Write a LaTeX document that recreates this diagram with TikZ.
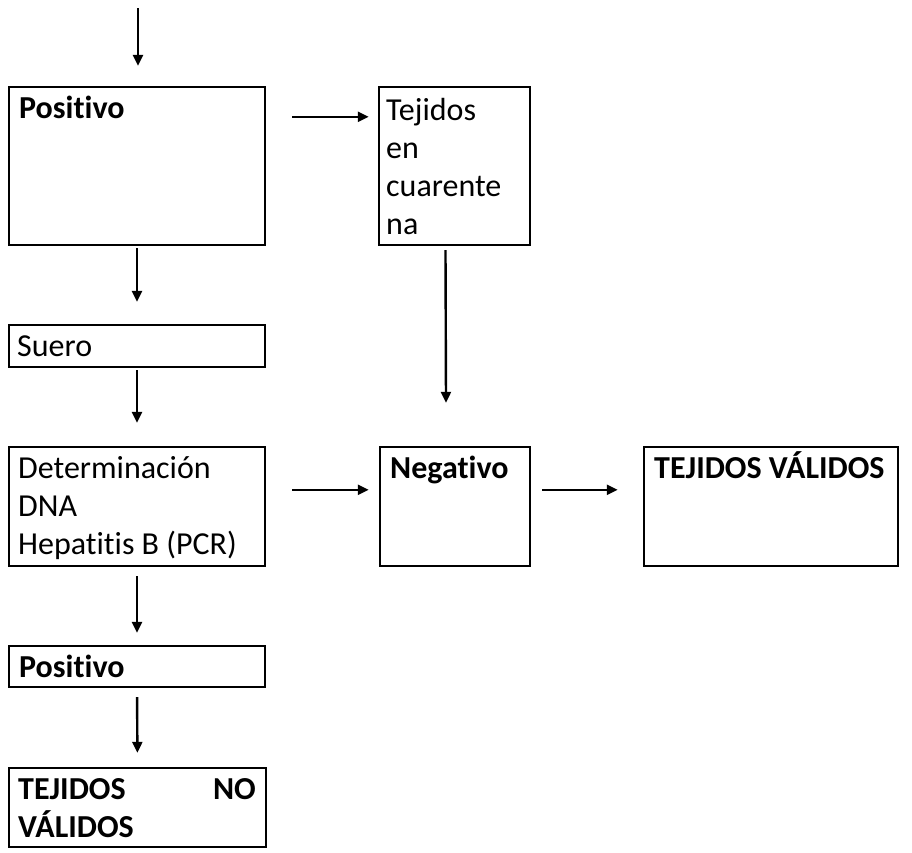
\documentclass[tikz,border=0pt]{standalone}
\usepackage{fontspec}
\setmainfont[Ligatures={NoCommon,NoContextual}]{Carlito}
\usetikzlibrary{arrows.meta,calc}

% Flow chart for hepatitis B screening of tissues.
% Units: 1pt per unit, y grows downward.
\newcommand{\boxat}[5]{%
  \path[draw,line width=2.6pt] (#2,#3) rectangle (#4,#5);
  \coordinate (#1-nw) at (#2,#3);
  \coordinate (#1-se) at (#4,#5);
  \node[inner sep=0pt,minimum width=#4pt-#2pt,minimum height=#5pt-#3pt]
       (#1) at ({(#2+#4)/2},{(#3+#5)/2}) {};}

\tikzset{
  txt/.style={inner sep=0pt,anchor=base west,font=\fontsize{32}{38}\selectfont},
  btxt/.style={txt,font=\fontsize{32}{38}\selectfont\bfseries},
  flow/.style={line width=2.4pt,-{Triangle[length=11pt,width=10pt]}}
}

\begin{document}
\begin{tikzpicture}[x=1pt,y=-1pt]
\useasboundingbox[fill=white] (0,0) rectangle (912,852);

% boxes
\boxat{pos}{9}{87}{265}{245}
\boxat{cuar}{379}{87}{530}{245}
\boxat{suero}{9}{325}{265}{367}
\boxat{det}{9}{447}{265}{566}
\boxat{neg}{380}{447}{530}{566}
\boxat{val}{644}{447}{898}{566}
\boxat{pos2}{9}{646}{265}{687}
\boxat{noval}{9}{768}{266}{847}

% box texts
\node[btxt] at ($(pos-nw)+(10,31)$) {Positivo};
\node[txt] at ($(cuar-nw)+(7,33)$) {Tejidos};
\node[txt] at ($(cuar-nw)+(7,71)$) {en};
\node[txt] at ($(cuar-nw)+(7,109)$) {cuarente};
\node[txt] at ($(cuar-nw)+(7,147)$) {na};
\node[txt] at ($(suero-nw)+(8,31)$) {Suero};
\node[txt] at ($(det-nw)+(9,31)$) {Determinación};
\node[txt] at ($(det-nw)+(9,69)$) {DNA};
\node[txt] at ($(det-nw)+(9,107)$) {Hepatitis B (PCR)};
\node[btxt] at ($(neg-nw)+(10,31)$) {Negativo};
\node[btxt] at ($(val-nw)+(10,31)$) {TEJIDOS VÁLIDOS};
\node[btxt] at ($(pos2-nw)+(10,31)$) {Positivo};
\node[btxt] at ($(noval-nw)+(9,31)$) {TEJIDOS};
\node[btxt,anchor=base east] at ($(noval-nw)+(247,31)$) {NO};
\node[btxt] at ($(noval-nw)+(9,69)$) {VÁLIDOS};

% connectors
\coordinate (start) at (138,8);
\draw[flow,shorten >=21pt] (start) -- (start |- pos.north);
\draw[flow] ($(pos.north east)+(27,30)$) -- ($(cuar.north west)+(-10,30)$);
\draw[flow,shorten <=3pt,shorten >=23pt] (pos.south) -- (suero.north);
\draw[flow] ($(cuar.south)+(-9,5)$) -- ($(neg.north)+(-9,-44)$);
\draw[flow,shorten <=3pt,shorten >=24pt] (suero.south) -- (det.north);
\draw[flow] ($(det.north east)+(27,43)$) -- ($(neg.north west)+(-11,43)$);
\draw[flow] ($(neg.north east)+(12,43)$) -- ($(val.north west)+(-26,43)$);
\draw[flow,shorten <=10pt,shorten >=13pt] (det.south) -- (pos2.north);
\draw[flow,shorten <=10pt,shorten >=15pt] (pos2.south) -- (noval.north);
\end{tikzpicture}
\end{document}
